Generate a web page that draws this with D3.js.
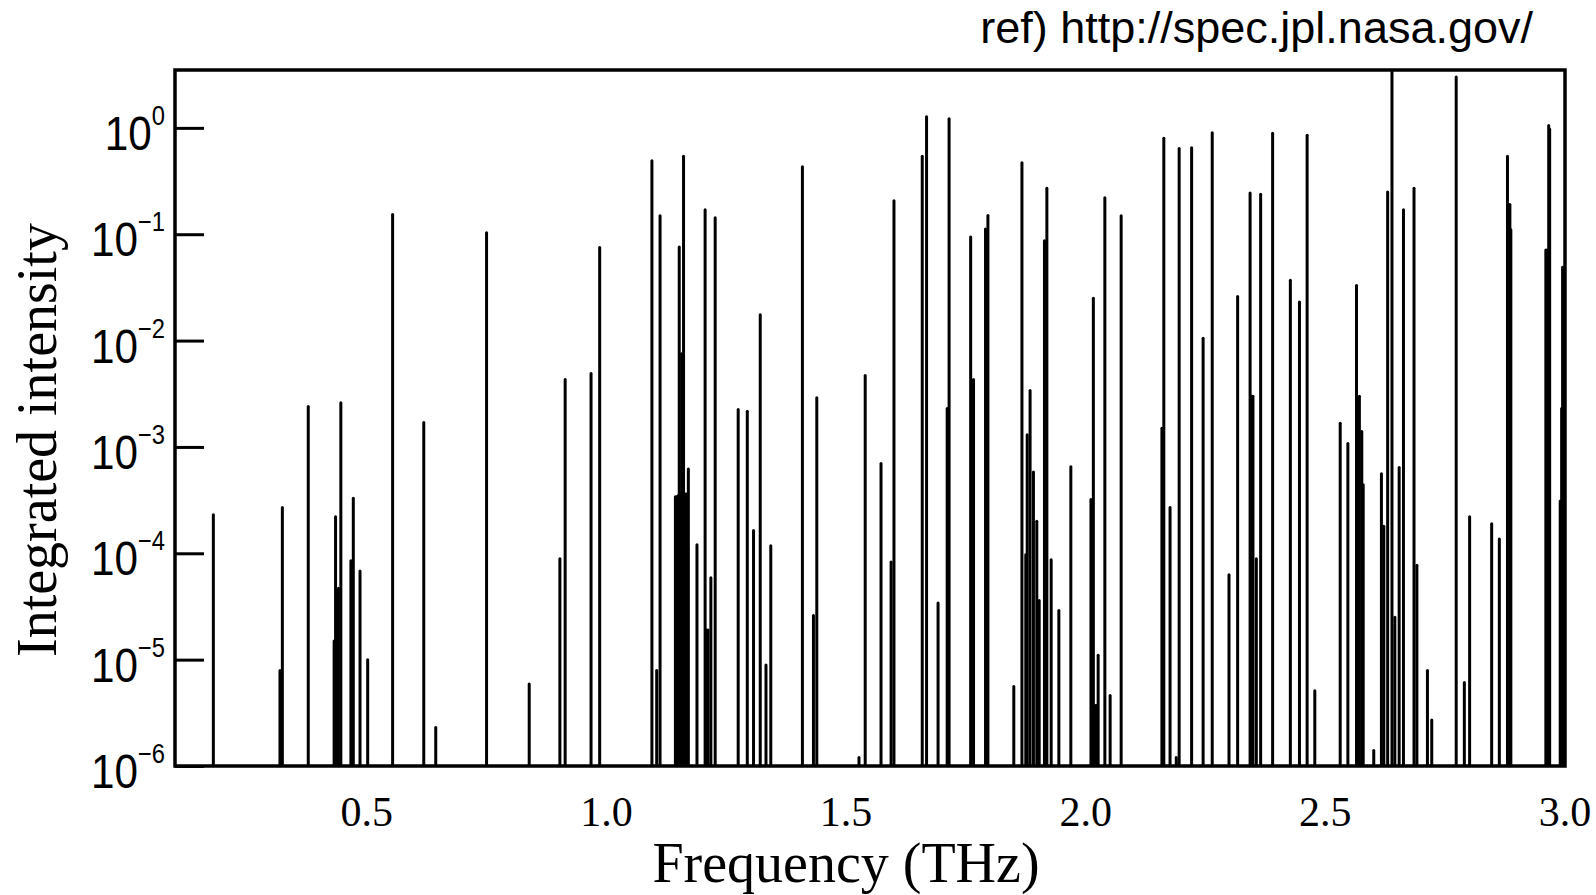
<!DOCTYPE html>
<html>
<head>
<meta charset="utf-8">
<script src="https://cdn.jsdelivr.net/npm/d3@7"></script>
<style>
  html, body { margin: 0; padding: 0; background: #fff; }
  #chart { width: 1596px; height: 895px; }
</style>
</head>
<body>
<div id="chart"></div>
<script>
// line positions (THz) and integrated intensities
const freqs = [
    0.180, 0.319, 0.324, 0.378, 0.432, 0.435, 0.441, 0.446, 0.467, 0.472,
    0.486, 0.502, 0.554, 0.619, 0.644, 0.750, 0.839, 0.903, 0.914,
    0.968, 0.986, 1.095, 1.105, 1.112, 1.144, 1.147, 1.150, 1.152, 1.155,
    1.157, 1.161, 1.165, 1.168, 1.171, 1.189, 1.206, 1.209, 1.212, 1.218,
    1.227, 1.275, 1.294, 1.307, 1.321, 1.333, 1.343, 1.409, 1.432, 1.439,
    1.527, 1.540, 1.573, 1.594, 1.600, 1.659, 1.668, 1.692, 1.711, 1.715,
    1.760, 1.766, 1.791, 1.796, 1.850, 1.867, 1.875, 1.878, 1.884, 1.891,
    1.898, 1.903, 1.914, 1.919, 1.928, 1.944, 1.969, 2.011, 2.016, 2.020,
    2.023, 2.026, 2.040, 2.051, 2.074, 2.159, 2.163, 2.176, 2.189, 2.195,
    2.221, 2.245, 2.264, 2.299, 2.317, 2.343, 2.347, 2.349, 2.356, 2.365,
    2.390, 2.427, 2.446, 2.462, 2.478, 2.531, 2.547, 2.565, 2.571, 2.576,
    2.579, 2.601, 2.617, 2.622, 2.630, 2.639, 2.645, 2.654, 2.663, 2.685,
    2.691, 2.713, 2.722, 2.773, 2.790, 2.801, 2.847, 2.863, 2.880, 2.885,
    2.887, 2.960, 2.963, 2.966, 2.968, 2.990, 2.993, 2.995
];
const intensities = [
    2.3e-4, 7.9e-6, 2.7e-4, 2.4e-3, 1.5e-5, 2.2e-4, 4.7e-5, 2.6e-3, 8.5e-5, 3.3e-4,
    6.8e-5, 1.0e-5, 0.153, 1.7e-3, 2.3e-6, 0.103, 5.9e-6, 8.9e-5, 4.3e-3,
    4.9e-3, 0.075, 0.49, 7.9e-6, 0.149, 3.4e-4, 3.4e-4, 3.5e-4, 0.076, 3.5e-4,
    7.5e-3, 0.54, 3.6e-4, 3.6e-4, 6.2e-4, 1.2e-4, 0.17, 1.9e-5, 1.9e-5, 5.9e-5,
    0.143, 2.25e-3, 2.16e-3, 1.64e-4, 0.0175, 8.9e-6, 1.18e-4, 0.43, 2.6e-5, 2.9e-3,
    1.2e-6, 4.7e-3, 7.0e-4, 8.3e-5, 0.206, 0.54, 1.27, 3.4e-5, 2.3e-3, 1.22,
    0.094, 4.3e-3, 0.112, 0.15, 5.6e-6, 0.47, 9.7e-5, 1.3e-3, 3.4e-3, 5.8e-4,
    2.0e-4, 3.6e-5, 0.087, 0.27, 8.7e-5, 2.9e-5, 6.5e-4, 3.2e-4, 0.025, 3.7e-6,
    3.7e-6, 1.1e-5, 0.22, 4.6e-6, 0.149, 1.5e-3, 0.80, 2.7e-4, 1.2e-6, 0.64,
    0.65, 0.0105, 0.90, 6.3e-5, 0.026, 0.244, 3.0e-3, 3.0e-3, 8.9e-5, 0.237,
    0.89, 0.037, 0.023, 0.85, 5.1e-6, 1.67e-3, 1.08e-3, 0.033, 3.0e-3, 1.4e-3,
    4.4e-4, 1.4e-6, 5.6e-4, 1.8e-4, 0.25, 5.0, 2.5e-5, 6.4e-4, 0.17, 0.27,
    7.7e-5, 7.9e-6, 2.7e-6, 3.0, 6.1e-6, 2.2e-4, 1.9e-4, 1.36e-4, 0.54, 0.19,
    0.11, 0.071, 0.071, 1.05, 0.97, 3.1e-4, 2.3e-3, 0.049
];
const xTicks = [0.5, 1.0, 1.5, 2.0, 2.5, 3.0];
const yTickExps = [0, -1, -2, -3, -4, -5, -6];

const lines = freqs.map((f, i) => ({ f: f, v: intensities[i] }));

const W = 1596, H = 895;
const plot = { left: 175, right: 1565, top: 70, bottom: 766 };

const svg = d3.select("#chart")
    .append("svg")
    .attr("width", W)
    .attr("height", H);

const x = d3.scaleLinear()
    .domain([0.1, 3.0])
    .range([plot.left, plot.right]);

const y = d3.scaleLog()
    .domain([1e-6, 3.5])
    .range([plot.bottom, plot.top]);

svg.append("clipPath")
    .attr("id", "clip")
    .append("rect")
    .attr("x", plot.left)
    .attr("y", plot.top)
    .attr("width", plot.right - plot.left)
    .attr("height", plot.bottom - plot.top);

// spectral lines
svg.append("g")
    .attr("clip-path", "url(#clip)")
    .selectAll("line")
    .data(lines)
    .join("line")
    .attr("x1", d => x(d.f))
    .attr("x2", d => x(d.f))
    .attr("y1", y(1e-6))
    .attr("y2", d => y(d.v))
    .attr("stroke", "#000")
    .attr("stroke-width", 3)
    .attr("stroke-linecap", "round");

// frame
svg.append("rect")
    .attr("x", plot.left)
    .attr("y", plot.top)
    .attr("width", plot.right - plot.left)
    .attr("height", plot.bottom - plot.top)
    .attr("fill", "none")
    .attr("stroke", "#000")
    .attr("stroke-width", 3.5);

// y axis: inward ticks, labels drawn by hand as 10^n
const yAxis = svg.append("g")
    .attr("transform", "translate(" + plot.left + ",0)")
    .call(d3.axisRight(y)
        .tickValues(yTickExps.map(e => Math.pow(10, e)))
        .tickSize(29)
        .tickFormat(""));
yAxis.select(".domain").remove();
yAxis.selectAll(".tick line")
    .attr("stroke", "#000")
    .attr("stroke-width", 3);

const yLab = svg.append("g")
    .selectAll("text")
    .data(yTickExps)
    .join("text")
    .attr("transform", e => "translate(165," + (y(Math.pow(10, e)) + 22) + ") scale(0.88,1)")
    .attr("text-anchor", "end")
    .attr("font-family", "'Liberation Sans', Arial, sans-serif")
    .attr("font-size", 48)
    .attr("fill", "#000");
yLab.append("tspan").text("10");
yLab.append("tspan")
    .attr("dy", -25)
    .attr("font-size", 27)
    .text(e => e === 0 ? "0" : "\u2212" + Math.abs(e));

// x axis labels (no tick marks)
svg.append("g")
    .selectAll("text")
    .data(xTicks)
    .join("text")
    .attr("x", d => x(d))
    .attr("y", 826)
    .attr("text-anchor", "middle")
    .attr("font-family", "'Liberation Serif', 'Times New Roman', serif")
    .attr("font-size", 42)
    .attr("fill", "#000")
    .text(d => d.toFixed(1));

svg.append("text")
    .attr("x", 846)
    .attr("y", 882)
    .attr("text-anchor", "middle")
    .attr("font-family", "'Liberation Serif', 'Times New Roman', serif")
    .attr("font-size", 56)
    .attr("fill", "#000")
    .text("Frequency (THz)");

svg.append("text")
    .attr("transform", "translate(56,440) rotate(-90)")
    .attr("text-anchor", "middle")
    .attr("font-family", "'Liberation Serif', 'Times New Roman', serif")
    .attr("font-size", 56)
    .attr("fill", "#000")
    .text("Integrated intensity");

svg.append("text")
    .attr("x", 1533)
    .attr("y", 43)
    .attr("text-anchor", "end")
    .attr("font-family", "'Liberation Sans', Arial, sans-serif")
    .attr("font-size", 45)
    .attr("fill", "#000")
    .text("ref) http://spec.jpl.nasa.gov/");
</script>
</body>
</html>
